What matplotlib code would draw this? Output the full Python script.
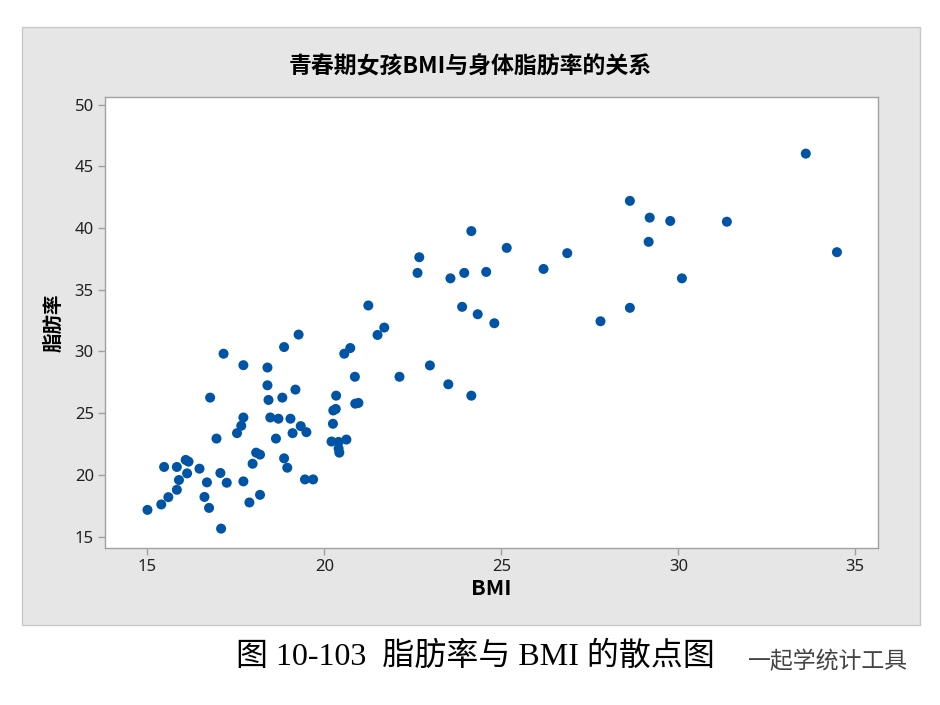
import matplotlib.pyplot as plt
from matplotlib.patches import Rectangle

plt.rcParams['font.family'] = ['Noto Sans CJK SC', 'DejaVu Sans']

# BMI 与脂肪率
bmi = [19.27, 18.86, 17.15, 17.71, 18.39, 20.56, 20.73, 20.86, 18.39, 19.18,
       16.77, 18.42, 18.81, 20.33, 20.87, 20.96, 20.25, 20.32, 17.71, 17.65,
       17.53, 18.47, 18.70, 19.04, 19.33, 19.10, 19.49, 20.24, 16.95, 18.63,
       20.20, 20.40, 20.62, 20.40, 20.42, 18.07, 18.18, 17.97, 18.86, 18.95,
       16.08, 16.16, 15.47, 15.83, 16.12, 16.47, 17.06, 15.89, 16.68, 17.24,
       17.71, 19.45, 19.68, 15.83, 15.59, 16.61, 18.18, 17.88, 15.39, 16.74,
       15.00, 17.08,
       24.15, 25.15, 22.68, 22.63, 23.56, 23.95, 24.57, 26.19, 21.24, 23.89,
       24.33, 24.80, 21.69, 21.50, 22.98, 22.12, 23.50, 24.15,
       33.60, 28.63, 29.19, 29.77, 31.37, 29.16, 26.86, 34.48, 30.10, 28.63,
       27.80]
fat = [31.37, 30.36, 29.82, 28.89, 28.70, 29.82, 30.28, 27.95, 27.26, 26.91,
       26.26, 26.07, 26.26, 26.42, 25.77, 25.83, 25.22, 25.34, 24.65, 23.98,
       23.38, 24.65, 24.55, 24.55, 23.95, 23.38, 23.46, 24.14, 22.94, 22.94,
       22.70, 22.67, 22.86, 22.13, 21.80, 21.80, 21.64, 20.90, 21.34, 20.58,
       21.21, 21.07, 20.64, 20.64, 20.12, 20.50, 20.15, 19.58, 19.39, 19.36,
       19.47, 19.63, 19.63, 18.79, 18.19, 18.21, 18.38, 17.76, 17.60, 17.32,
       17.16, 15.64,
       39.76, 38.40, 37.64, 36.37, 35.93, 36.37, 36.45, 36.69, 33.73, 33.62,
       33.02, 32.29, 31.94, 31.34, 28.87, 27.95, 27.34, 26.42,
       46.04, 42.21, 40.85, 40.58, 40.52, 38.89, 37.97, 38.05, 35.93, 33.54,
       32.45]

xticks = [15, 20, 25, 30, 35]
yticks = [15, 20, 25, 30, 35, 40, 45, 50]

fig = plt.figure(figsize=(9.4, 7.05), dpi=100)
fig.patch.set_facecolor('white')

# 灰色底板
fig.patches.append(Rectangle((22 / 940, 1 - 625 / 705), 898 / 940, 598 / 705,
                             transform=fig.transFigure, facecolor='#e6e6e6',
                             edgecolor='#c8c8c8', linewidth=1, zorder=-1))

ax = fig.add_axes([105 / 940, 1 - 548 / 705, 773 / 940, 451 / 705])
ax.set_zorder(1)
ax.set_facecolor('white')
ax.scatter(bmi, fat, s=52, color='#0054a6', edgecolors='none', zorder=3)

ax.set_xlim(13.8, 35.64)
ax.set_ylim(14.07, 50.63)
ax.set_xticks(xticks)
ax.set_yticks(yticks)
for sp in ax.spines.values():
    sp.set_color('#a0a0a0')
    sp.set_linewidth(1)
ax.tick_params(direction='out', length=5, width=1, color='#a0a0a0',
               labelsize=12, labelcolor='#222222', pad=3)
for lab in ax.get_xticklabels() + ax.get_yticklabels():
    lab.set_family(['Noto Sans', 'DejaVu Sans'])

ax.set_xlabel('BMI', fontsize=15.5, fontweight='bold', labelpad=2)
ax.set_ylabel('脂肪率', fontsize=14, fontweight='bold', labelpad=8)

fig.text(0.5, 1 - 67 / 705, '青春期女孩BMI与身体脂肪率的关系', ha='center', va='center',
         fontsize=16.5, fontweight='bold')

fig.text(236 / 940, 1 - 657 / 705, '图 10-103  脂肪率与 BMI 的散点图', ha='left', va='center',
         fontsize=23, family=['Liberation Serif', 'Noto Sans CJK SC'])
fig.text(748 / 940, 1 - 662 / 705, '一起学统计工具', ha='left', va='center',
         fontsize=16.5, color='#444444')

fig.savefig('out.png', dpi=100)
